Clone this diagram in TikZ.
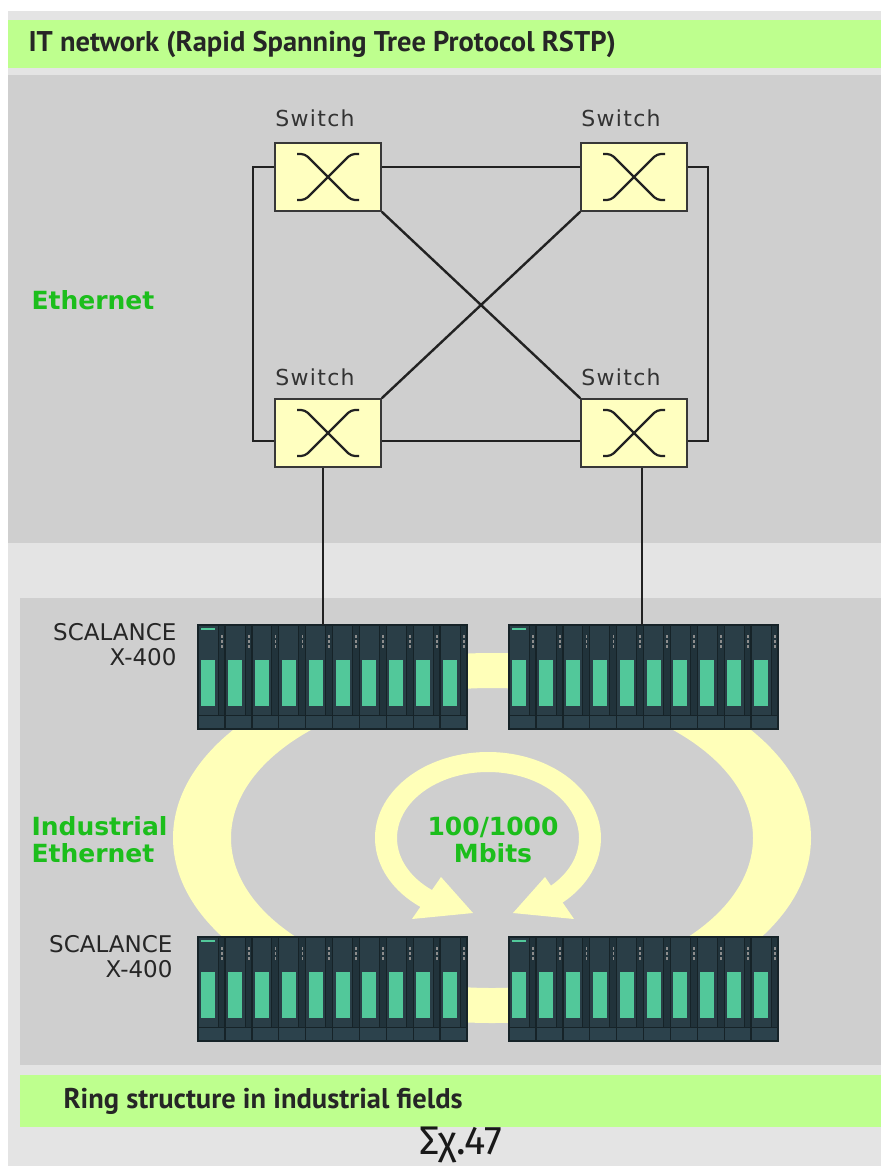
\documentclass[tikz,border=0pt]{standalone}
\usepackage{fontspec}
\setmainfont{DejaVu Sans}
\newfontfamily\barfont{PT Sans}
\newfontfamily\capfont{Fira Sans}
\usetikzlibrary{calc}

\definecolor{bgLight}{RGB}{228,228,228}
\definecolor{panel}{RGB}{207,207,207}
\definecolor{barGreen}{RGB}{190,255,142}
\definecolor{txtGreen}{RGB}{28,190,28}
\definecolor{swFill}{RGB}{255,255,192}
\definecolor{ringYellow}{RGB}{255,255,185}
\definecolor{modBase}{RGB}{42,62,71}
\definecolor{modDark}{RGB}{22,35,40}
\definecolor{modStrip}{RGB}{33,51,59}
\definecolor{modFoot}{RGB}{44,66,76}
\definecolor{modGreen}{RGB}{82,200,154}
\definecolor{wire}{RGB}{34,34,34}

\tikzset{
  wireline/.style={draw=wire, line width=2.4},
  switchbox/.style={draw=wire!90, line width=1.5, fill=swFill, minimum width=106, minimum height=68, inner sep=0},
  swlabel/.style={font=\fontsize{22}{26}\selectfont\addfontfeature{LetterSpace=6}, text=black!80},
  greenlabel/.style={font=\bfseries\fontsize{25}{27}\selectfont, text=txtGreen},
  barlabel/.style={font=\barfont\bfseries\fontsize{28.5}{32}\selectfont, text=black!85},
  devlabel/.style={font=\fontsize{23}{25}\selectfont, text=black!85, align=right},
  devbox/.style={fill=modBase, minimum width=269, minimum height=104, inner sep=0, anchor=north west},
}

% a SCALANCE X-400 rack: ten modules in a row, top left corner at #2
\newcommand{\scalancerack}[2]{%
  \node[devbox] (#1) at (#2) {};
  \begin{scope}[shift={(#1.north west)}]
    \foreach \i in {0,...,9}{
      \fill[modStrip] ({\i*26.9+20},0) rectangle ({\i*26.9+26.9},90);
      \fill[modFoot] ({\i*26.9},90) rectangle ({\i*26.9+26.9},104);
      \fill[modGreen] ({\i*26.9+3},35) rectangle ({\i*26.9+17},81);
      \draw[modDark, line width=0.8] ({\i*26.9+20},0) -- ({\i*26.9+20},90);
      \draw[modDark, line width=0.8] ({\i*26.9},90) -- ({\i*26.9+26.9},90);
      \foreach \k in {0,1,2}
        \fill[black!45] ({\i*26.9+22.8},{10+\k*5}) rectangle ({\i*26.9+24.6},{12.6+\k*5});
      \draw[modDark, line width=1.4] ({\i*26.9},0) -- ({\i*26.9},104);
    }
    \fill[modGreen] (3,2.5) rectangle (17,5);
    \draw[modDark, line width=1.6] (0,0) rectangle (269,104);
  \end{scope}
}

% switch symbol: box with a crossed-lines glyph
\newcommand{\switchnode}[2]{%
  \node[switchbox] (#1) at (#2) {};
  \draw[wire, line width=2.2, rounded corners=4]
    ($(#1.center)+(-31,-23)$) -- ++(8,0) -- ($(#1.center)+(23,23)$) -- ++(8,0);
  \draw[wire, line width=2.2, rounded corners=4]
    ($(#1.center)+(31,-23)$) -- ++(-8,0) -- ($(#1.center)+(-23,23)$) -- ++(-8,0);
}

\begin{document}
\begin{tikzpicture}[x=1pt, y=-1pt]
  \useasboundingbox (0,0) rectangle (881,1166);
  % backgrounds and bands
  \fill[white] (0,0) rectangle (881,1166);
  \fill[bgLight] (8,11) rectangle (881,1166);
  \fill[barGreen] (8,20) rectangle (881,68);
  \fill[panel] (8,75) rectangle (881,543);
  \fill[panel] (20,598) rectangle (881,1065);
  \fill[barGreen] (20,1075) rectangle (881,1127);

  % large ring between the four racks
  \fill[ringYellow, even odd rule]
    (492,838) ellipse [x radius=319, y radius=185]
    (492,838) ellipse [x radius=261, y radius=150];

  % inner circular double arrow
  \coordinate (rc) at (488,838);
  \fill[ringYellow]
    ($(rc)+(125:113 and 86)$) arc[start angle=125, end angle=415, x radius=113, y radius=86]
    -- ($(rc)+(415:91 and 66)$) arc[start angle=415, end angle=125, x radius=91, y radius=66]
    -- cycle;
  \fill[ringYellow] (412,919) -- (441,877) -- (473,913) -- cycle;
  \fill[ringYellow] (574,919) -- (545,877) -- (513,913) -- cycle;

  % racks
  \scalancerack{ra}{198,625}
  \scalancerack{rb}{509,625}
  \scalancerack{rc2}{198,937}
  \scalancerack{rd}{509,937}

  % switches
  \switchnode{tl}{328,177}
  \switchnode{tr}{634,177}
  \switchnode{bl}{328,433}
  \switchnode{br}{634,433}

  % wiring
  \coordinate (ytop) at (0,167);
  \coordinate (ybot) at (0,441);
  \coordinate (xl) at (253,0);
  \coordinate (xr) at (708,0);
  \coordinate (xa) at (323,0);
  \coordinate (xb) at (642,0);
  \draw[wireline] (tl.east |- ytop) -- (tr.west |- ytop);
  \draw[wireline] (bl.east |- ybot) -- (br.west |- ybot);
  \draw[wireline] (tl.west |- ytop) -- (xl |- ytop) -- (xl |- ybot) -- (bl.west |- ybot);
  \draw[wireline] (tr.east |- ytop) -- (xr |- ytop) -- (xr |- ybot) -- (br.east |- ybot);
  \draw[wireline] (tl.south east) -- (br.north west);
  \draw[wireline] (tr.south west) -- (bl.north east);
  \draw[wireline] (bl.south -| xa) -- (ra.north -| xa);
  \draw[wireline] (br.south -| xb) -- (rb.north -| xb);

  % labels
  \node[barlabel, anchor=west] (ttl) at (25,44) {IT network (Rapid Spanning Tree Protocol RSTP)};
  \node[barlabel, anchor=west] (btl) at (60,1101) {Ring structure in industrial fields};
  \node[swlabel] (sl1) at (315,118) {Switch};
  \node[swlabel] (sl2) at (621,118) {Switch};
  \node[swlabel] (sl3) at (315,377) {Switch};
  \node[swlabel] (sl4) at (621,377) {Switch};
  \node[greenlabel, anchor=west] (eth) at (28,300) {Ethernet};
  \node[greenlabel, anchor=west, align=left] (ie) at (28,840) {Industrial\\Ethernet};
  \node[greenlabel, align=center] (spd) at (493,840) {100/1000\\Mbits};
  \node[devlabel, anchor=east] (dl1) at (180,645) {SCALANCE\\X-400};
  \node[devlabel, anchor=east] (dl2) at (176,957) {SCALANCE\\X-400};
  \node[font=\capfont\fontsize{40}{42}\selectfont, text=black!90, inner sep=1] (fig) at (461,1145) {Σχ.47};
\end{tikzpicture}
\end{document}
